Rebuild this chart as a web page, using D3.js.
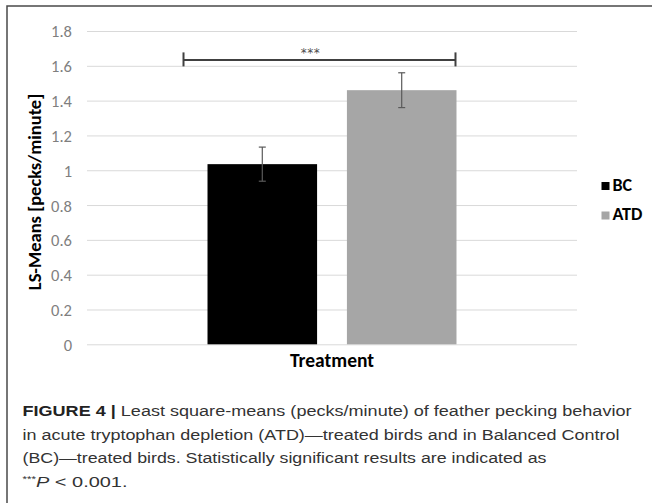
<!DOCTYPE html>
<html>
<head>
<meta charset="utf-8">
<script src="https://cdn.jsdelivr.net/npm/d3@7"></script>
<style>
  html, body { margin: 0; padding: 0; background: #fff; }
  svg { display: block; }
</style>
</head>
<body>
<svg id="chart" width="652" height="503"></svg>
<script>
// ---------- data ----------
const categories = ["Treatment"];
const series = ["BC", "ATD"];
const means = [1.035, 1.46];
const errors = [0.098, 0.10];
const seriesColors = ["#000000", "#a6a6a6"];
const tickValues = [0, 0.2, 0.4, 0.6, 0.8, 1, 1.2, 1.4, 1.6, 1.8];
const tickLabels = ["0", "0.2", "0.4", "0.6", "0.8", "1", "1.2", "1.4", "1.6", "1.8"];
const yTitle = "LS-Means [pecks/minute]";
const xTitle = "Treatment";
const sigLevel = 1.634;
const sigLabel = "***";
const captionLines = [
  [{t: "FIGURE 4 | ", b: true}, {t: "Least square-means (pecks/minute) of feather pecking behavior"}],
  [{t: "in acute tryptophan depletion (ATD)\u2014treated birds and in Balanced Control"}],
  [{t: "(BC)\u2014treated birds. Statistically significant results are indicated as"}],
  [{t: "***", sup: true}, {t: "P", i: true}, {t: " < 0.001."}]
];
const captionWidths = [609, 597, 524, 105];

// ---------- layout ----------
const svg = d3.select("#chart");
const chartFont = "Carlito, Lato, 'Open Sans', sans-serif";
const plot = {left: 87, right: 577, top: 31, bottom: 344.3};

const y = d3.scaleLinear().domain([0, 1.8]).range([plot.bottom, plot.top]);
const x0 = d3.scaleBand().domain(categories).range([plot.left, plot.right]).paddingInner(0).paddingOuter(0.484);
const x1 = d3.scaleBand().domain(series).range([0, x0.bandwidth()]).paddingInner(0.214).paddingOuter(0);

// frame
svg.append("path")
  .attr("d", "M7,503 V6 H652")
  .attr("fill", "none").attr("stroke", "#4a4a4a").attr("stroke-width", 1.5);

// gridlines via axis
const gridAxis = d3.axisLeft(y).tickValues(tickValues).tickSize(-(plot.right - plot.left)).tickFormat("");
const grid = svg.append("g").attr("transform", `translate(${plot.left},0)`).call(gridAxis);
grid.select(".domain").remove();
grid.selectAll(".tick line").attr("stroke", "#d9d9d9").attr("stroke-width", 1);

// tick labels via axis
const labelAxis = d3.axisLeft(y).tickValues(tickValues).tickSize(0).tickPadding(0)
  .tickFormat((d, i) => tickLabels[i]);
const lab = svg.append("g").attr("transform", `translate(72,0)`).call(labelAxis);
lab.select(".domain").remove();
lab.selectAll(".tick text")
  .attr("fill", "#7f7f7f").attr("font-family", chartFont).attr("font-size", 16.5)
  .attr("dy", "0.36em");

// bars
const data = series.map((s, i) => ({s, v: means[i], e: errors[i], c: seriesColors[i], cat: categories[0]}));
const g = svg.append("g");
g.selectAll("rect.bar").data(data).enter().append("rect")
  .attr("class", "bar")
  .attr("x", d => x0(d.cat) + x1(d.s))
  .attr("y", d => y(d.v))
  .attr("width", x1.bandwidth())
  .attr("height", d => y(0) - y(d.v))
  .attr("fill", d => d.c);

// error bars
const eb = g.selectAll("g.err").data(data).enter().append("g").attr("class", "err")
  .attr("stroke", "#5a5a5a").attr("stroke-width", 1.2);
eb.append("line")
  .attr("x1", d => x0(d.cat) + x1(d.s) + x1.bandwidth() / 2)
  .attr("x2", d => x0(d.cat) + x1(d.s) + x1.bandwidth() / 2)
  .attr("y1", d => y(d.v + d.e)).attr("y2", d => y(d.v - d.e));
["+", "-"].forEach(sg => {
  eb.append("line")
    .attr("x1", d => x0(d.cat) + x1(d.s) + x1.bandwidth() / 2 - 3.5)
    .attr("x2", d => x0(d.cat) + x1(d.s) + x1.bandwidth() / 2 + 3.5)
    .attr("y1", d => y(sg === "+" ? d.v + d.e : d.v - d.e))
    .attr("y2", d => y(sg === "+" ? d.v + d.e : d.v - d.e));
});

// significance bracket
const bx1 = x0(categories[0]) + x1(series[0]) - 24;
const bx2 = x0(categories[0]) + x1(series[1]) + x1.bandwidth() - 1;
const by = y(sigLevel);
const br = svg.append("g").attr("stroke", "#404040").attr("stroke-width", 2).attr("fill", "none");
br.append("line").attr("x1", bx1).attr("x2", bx2).attr("y1", by).attr("y2", by);
br.append("line").attr("x1", bx1).attr("x2", bx1).attr("y1", by - 7.5).attr("y2", by + 6.5);
br.append("line").attr("x1", bx2).attr("x2", bx2).attr("y1", by - 7.5).attr("y2", by + 6.5);
svg.append("text")
  .attr("x", (bx1 + bx2) / 2 - 9).attr("y", by - 3)
  .attr("text-anchor", "middle")
  .attr("font-family", "'DejaVu Sans', sans-serif").attr("font-size", 12).attr("fill", "#4a4a4a")
  .attr("letter-spacing", 0.5)
  .text(sigLabel);

// axis titles
svg.append("text")
  .attr("transform", `translate(41,192) rotate(-90)`)
  .attr("text-anchor", "middle")
  .attr("font-family", chartFont).attr("font-weight", "bold").attr("font-size", 18.5)
  .attr("fill", "#000")
  .text(yTitle);
svg.append("text")
  .attr("x", (plot.left + plot.right) / 2).attr("y", 367)
  .attr("text-anchor", "middle")
  .attr("font-family", chartFont).attr("font-weight", "bold").attr("font-size", 19.5)
  .attr("fill", "#000")
  .text(xTitle);

// legend
const leg = svg.append("g").attr("transform", "translate(601.5,182)");
series.forEach((s, i) => {
  const row = leg.append("g").attr("transform", `translate(0,${i * 29.5})`);
  row.append("rect").attr("width", 8).attr("height", 8).attr("fill", seriesColors[i]);
  row.append("text").attr("x", 11).attr("y", 8.5)
    .attr("font-family", chartFont).attr("font-weight", "bold").attr("font-size", 18)
    .attr("fill", "#000").text(s);
});

// caption
const capFont = "'Liberation Sans', Arial, sans-serif";
captionLines.forEach((line, i) => {
  const t = svg.append("text")
    .attr("x", 22.5).attr("y", 415.7 + i * 23.85)
    .attr("font-family", capFont).attr("font-size", 15.5)
    .attr("fill", "#333");
  if (captionWidths[i]) t.attr("textLength", captionWidths[i]).attr("lengthAdjust", "spacingAndGlyphs");
  line.forEach(p => {
    const ts = t.append("tspan").text(p.t);
    if (p.b) ts.attr("font-weight", "bold").attr("fill", "#222");
    if (p.i) ts.attr("font-style", "italic");
    if (p.sup) ts.attr("font-size", 9).attr("dy", -5);
    if (p.i) ts.attr("dy", 5);
  });
});
</script>
</body>
</html>
